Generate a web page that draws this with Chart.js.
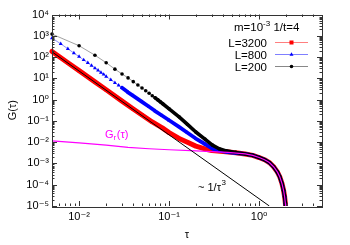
<!DOCTYPE html>
<html>
<head>
<meta charset="utf-8">
<script src="https://cdn.jsdelivr.net/npm/chart.js@4.4.1/dist/chart.umd.min.js"></script>
<style>
  html, body { margin: 0; padding: 0; background: #fff; }
</style>
</head>
<body>
<canvas id="corrChart" width="350" height="245"></canvas>
<script>
// axis ranges and tick positions
const xTickVals = [0.01, 0.1, 1];
const yTickVals = [1e-5, 1e-4, 1e-3, 1e-2, 1e-1, 1, 10, 100, 1000, 10000];

// all curves fall onto G_r(tau) beyond the plateau
const tailTau = [0.7, 0.85, 1.0, 1.15, 1.3, 1.45, 1.6, 1.7, 1.8, 1.87, 1.92, 1.96, 2.0];
const tailG   = [0.0028, 0.0024, 0.0019, 0.0015, 0.0011, 7e-4, 3.9e-4, 2.3e-4, 1.1e-4, 5.5e-5, 2.8e-5, 1.3e-5, 4e-6];

// L = 3200 (red squares, dense)
const tau3200 = [0.005, 0.0075, 0.01, 0.015, 0.02, 0.03, 0.04, 0.05, 0.065, 0.084, 0.1, 0.129, 0.16, 0.198, 0.25, 0.3, 0.4, 0.55];
const g3200   = [184, 54.5, 23, 6.8, 2.9, 0.85, 0.36, 0.19, 0.089, 0.047, 0.028, 0.015, 0.0098, 0.0065, 0.0048, 0.0040, 0.0036, 0.0032];

// L = 800 (blue triangles)
const tau800 = [0.005, 0.00625, 0.0075, 0.00875, 0.01, 0.01125, 0.0125, 0.01375, 0.015, 0.01625, 0.0175, 0.01875, 0.02,
                0.0225, 0.025, 0.0275, 0.03, 0.035, 0.04, 0.05, 0.06, 0.07, 0.084, 0.1, 0.129, 0.16, 0.198, 0.25, 0.303, 0.36, 0.43, 0.55];
const g800   = [780, 418, 245, 154, 105, 73, 53, 39.5, 30, 23.6, 18.7, 15.2, 12.2,
                8.6, 6.2, 4.7, 3.6, 2.2, 1.5, 0.78, 0.46, 0.29, 0.175, 0.107, 0.052, 0.0276, 0.0148, 0.0082, 0.005, 0.004, 0.0035, 0.0031];

// L = 200 (black dots)
const tau200 = [0.005, 0.01, 0.015, 0.02, 0.025, 0.03, 0.035, 0.04, 0.045, 0.05, 0.055, 0.06, 0.065, 0.07, 0.075, 0.08, 0.085,
                0.1, 0.129, 0.16, 0.198, 0.25, 0.303, 0.36, 0.43, 0.55];
const g200   = [1200, 340, 122, 54, 27, 16, 10.5, 7.0, 4.85, 3.5, 2.6, 1.98, 1.53, 1.21, 0.97, 0.78, 0.64,
                0.37, 0.155, 0.068, 0.030, 0.0139, 0.0073, 0.0049, 0.0039, 0.0033];

// G_r(tau) (magenta)
const tauGr = [0.005, 0.01, 0.02, 0.035, 0.06, 0.1, 0.2, 0.3, 0.45, 0.6];
const gGr   = [0.0115, 0.0092, 0.0072, 0.0057, 0.0049, 0.0044, 0.0039, 0.0036, 0.0033, 0.0030];

// ~ 1/tau^3 guide line
const tauLine = [0.005, 1.3];
const gLine   = [176, 1.0e-5];

const FONT = "'Liberation Sans', Arial, 'DejaVu Sans', sans-serif";
const SUP = { '-': '\u207B', '0': '\u2070', '1': '\u00B9', '2': '\u00B2', '3': '\u00B3', '4': '\u2074', '5': '\u2075' };

function powLabel(v) {
    const e = Math.round(Math.log10(v));
    return '10' + String(e).split('').map(c => SUP[c]).join('');
}

function pts(xs, ys) {
    return xs.map((x, i) => ({ x: x, y: ys[i] }));
}

// thin connecting line where markers are separate, thick band where they pile up
function bandSegment(start, thinColor, thickColor, thinW, thickW) {
    return {
        borderColor: ctx => ctx.p0.parsed.x >= start ? thickColor : thinColor,
        borderWidth: ctx => ctx.p0.parsed.x >= start ? thickW : thinW
    };
}

const clipBox = { left: 5, top: 0, right: 0, bottom: 0 };

// frame, inward gnuplot-style ticks, labels and key
const decorPlugin = {
    id: 'decor',
    afterDatasetsDraw(chart) {
        const { ctx, chartArea: a, scales } = chart;
        const xs = scales.x, ys = scales.y;
        ctx.save();
        ctx.strokeStyle = '#333';
        ctx.lineWidth = 1;
        ctx.beginPath();
        for (let e = -3; e <= 0; e++) {
            for (let k = 1; k <= 9; k++) {
                const v = k * Math.pow(10, e);
                if (v <= 0.005 || v >= 5) continue;
                const px = Math.round(xs.getPixelForValue(v)) + 0.5;
                const len = k === 1 ? 5 : 2.5;
                ctx.moveTo(px, a.bottom); ctx.lineTo(px, a.bottom - len);
                ctx.moveTo(px, a.top); ctx.lineTo(px, a.top + len);
            }
        }
        for (let e = -5; e <= 4; e++) {
            for (let k = 1; k <= 9; k++) {
                const v = k * Math.pow(10, e);
                if (v < 1e-5 || v > 1e4) continue;
                const py = Math.round(ys.getPixelForValue(v)) + 0.5;
                const len = k === 1 ? 5 : 2.5;
                ctx.moveTo(a.left, py); ctx.lineTo(a.left + len, py);
                ctx.moveTo(a.right, py); ctx.lineTo(a.right - len, py);
            }
        }
        ctx.stroke();
        ctx.strokeRect(Math.round(a.left) + 0.5, Math.round(a.top) + 0.5,
                       Math.round(a.right - a.left), Math.round(a.bottom - a.top));
        ctx.restore();
    },
    afterDraw(chart) {
        const { ctx } = chart;
        ctx.save();
        ctx.textBaseline = 'alphabetic';

        // G_r(tau) label
        ctx.fillStyle = '#ff00ff';
        ctx.font = '11px ' + FONT;
        ctx.textAlign = 'left';
        let x = 105;
        ctx.fillText('G', x, 137.5);
        x += ctx.measureText('G').width;
        ctx.font = '8px ' + FONT;
        ctx.fillText('r', x, 140);
        x += ctx.measureText('r').width + 0.5;
        ctx.font = '11px ' + FONT;
        ctx.fillText('(\u03C4)', x, 137.5);

        // ~ 1/tau^3 label
        ctx.fillStyle = '#000';
        x = 198;
        ctx.fillText('~ 1/\u03C4', x, 191);
        x += ctx.measureText('~ 1/\u03C4').width + 0.5;
        ctx.font = '8px ' + FONT;
        ctx.fillText('3', x, 185);

        // key title: m=10^-3 1/t=4
        ctx.font = '11.5px ' + FONT;
        x = 234;
        ctx.fillText('m=10', x, 31);
        x += ctx.measureText('m=10').width;
        ctx.font = '8px ' + FONT;
        ctx.fillText('-3', x, 26);
        x += ctx.measureText('-3').width;
        ctx.font = '11.5px ' + FONT;
        ctx.fillText(' 1/t=4', x, 31);

        // key rows
        const rows = [
            { text: 'L=3200', y: 42.5, line: 'rgba(255,0,0,0.5)', mark: 'rect', color: '#ff0000' },
            { text: 'L=800', y: 54.5, line: 'rgba(0,0,255,0.5)', mark: 'tri', color: '#0000ff' },
            { text: 'L=200', y: 66.5, line: '#888', mark: 'dot', color: '#000' }
        ];
        rows.forEach(r => {
            ctx.font = '11.5px ' + FONT;
            ctx.textAlign = 'right';
            ctx.fillStyle = '#000';
            ctx.fillText(r.text, 267, r.y + 4);
            ctx.strokeStyle = r.line;
            ctx.lineWidth = 1;
            ctx.beginPath();
            ctx.moveTo(275, r.y); ctx.lineTo(308, r.y);
            ctx.stroke();
            ctx.fillStyle = r.color;
            const mx = 291.5;
            if (r.mark === 'rect') {
                ctx.fillRect(mx - 2, r.y - 2, 4, 4);
            } else if (r.mark === 'tri') {
                ctx.beginPath();
                ctx.moveTo(mx, r.y - 2.3);
                ctx.lineTo(mx + 2, r.y + 1.2);
                ctx.lineTo(mx - 2, r.y + 1.2);
                ctx.closePath();
                ctx.fill();
            } else {
                ctx.beginPath();
                ctx.arc(mx, r.y, 1.8, 0, Math.PI * 2);
                ctx.fill();
            }
        });
        ctx.restore();
    }
};

const ctx = document.getElementById('corrChart').getContext('2d');
new Chart(ctx, {
    type: 'scatter',
    data: {
        datasets: [
            {
                label: '~ 1/tau^3',
                data: pts(tauLine, gLine),
                showLine: true,
                borderColor: '#000',
                borderWidth: 1,
                pointRadius: 0,
                clip: clipBox,
                order: 0
            },
            {
                label: 'G_r',
                data: pts(tauGr.concat(tailTau), gGr.concat(tailG)),
                showLine: true,
                borderColor: '#ff00ff',
                borderWidth: 1.2,
                pointRadius: 0,
                clip: clipBox,
                order: 1
            },
            {
                label: 'L=200',
                data: pts(tau200.concat(tailTau), g200.concat(tailG)),
                showLine: true,
                borderColor: '#000',
                borderCapStyle: 'round',
                borderJoinStyle: 'round',
                segment: bandSegment(0.068, '#888', '#000', 0.8, 3.6),
                pointStyle: 'circle',
                pointRadius: 1.8,
                pointBorderWidth: 0,
                pointBackgroundColor: '#000',
                clip: clipBox,
                order: 2
            },
            {
                label: 'L=800',
                data: pts(tau800.concat(tailTau), g800.concat(tailG)),
                showLine: true,
                borderColor: '#0000ff',
                borderCapStyle: 'round',
                borderJoinStyle: 'round',
                segment: bandSegment(0.028, 'rgba(0,0,255,0.55)', '#0000ff', 0.8, 3.8),
                pointStyle: 'triangle',
                pointRadius: 2.3,
                pointBorderWidth: 0,
                pointBackgroundColor: '#0000ff',
                clip: clipBox,
                order: 3
            },
            {
                label: 'L=3200',
                data: pts(tau3200.concat(tailTau), g3200.concat(tailG)),
                showLine: true,
                borderColor: '#ff0000',
                borderWidth: 5,
                borderCapStyle: 'round',
                borderJoinStyle: 'round',
                pointStyle: 'rect',
                pointRadius: 2.4,
                pointBorderWidth: 0,
                pointBackgroundColor: '#ff0000',
                clip: clipBox,
                order: 4
            }
        ]
    },
    options: {
        responsive: false,
        animation: false,
        events: [],
        layout: { padding: { top: 14.5, right: 28, left: 0, bottom: 0 } },
        plugins: {
            legend: { display: false },
            tooltip: { enabled: false }
        },
        scales: {
            x: {
                type: 'logarithmic',
                min: 0.005,
                max: 5,
                afterBuildTicks: s => { s.ticks = xTickVals.map(v => ({ value: v })); },
                afterFit: s => { s.height = 39; },
                grid: { display: false, drawTicks: false },
                border: { display: false },
                ticks: {
                    callback: v => powLabel(v),
                    color: '#000',
                    font: { family: FONT, size: 11 },
                    maxRotation: 0,
                    autoSkip: false,
                    padding: 4
                },
                title: {
                    display: true,
                    text: '\u03C4',
                    color: '#000',
                    font: { family: FONT, size: 11 },
                    padding: { top: 0, bottom: 3 }
                }
            },
            y: {
                type: 'logarithmic',
                min: 1e-5,
                max: 1e4,
                afterBuildTicks: s => { s.ticks = yTickVals.map(v => ({ value: v })); },
                afterFit: s => { s.width = 52; },
                grid: { display: false, drawTicks: false },
                border: { display: false },
                ticks: {
                    callback: v => powLabel(v),
                    color: '#000',
                    font: { family: FONT, size: 11 },
                    autoSkip: false,
                    padding: 3
                },
                title: {
                    display: true,
                    text: 'G(\u03C4)',
                    color: '#000',
                    font: { family: FONT, size: 11 },
                    padding: { top: 6, bottom: 0 }
                }
            }
        }
    },
    plugins: [decorPlugin]
});
</script>
</body>
</html>
